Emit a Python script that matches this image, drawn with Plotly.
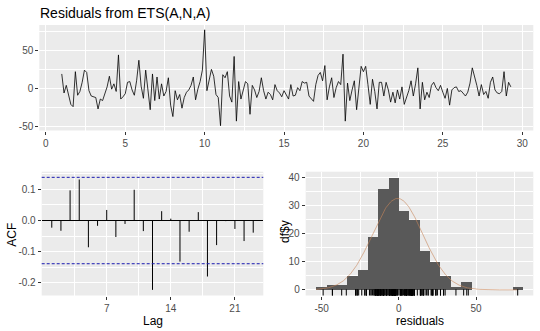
import numpy as np
import plotly.graph_objects as go

# ---- data -------------------------------------------------------------
FREQ = 7          # observations per season
START = 1         # first season index

residuals = [
    19, -6, 4, -10, -21, -24, 22,
    -9, -4, 8, 24, 21, -3, -10,
    -11, -12, -27, -14, -16, -6, 2,
    16, -1, 6, -4, 44, -14, -11,
    -7, 8, 9, -2, -9, 10, 37,
    3, -13, 24, -6, -28, 19, -16,
    15, -14, 6, -10, -4, 14, -22,
    -37, -3, -15, -8, -26, -12, -5,
    -2, 4, 15, -15, -1, 9, 24,
    77, -3, 10, 25, 16, -8, -12,
    -49, 18, 14, 22, -10, -18, 42,
    -43, 9, -14, -1, 9, 6, -34,
    4, -2, -12, -4, 14, -3, -14,
    -5, -8, -15, 5, -3, -6, -11,
    -3, -8, -14, 5, -10, -9, 1,
    -3, 9, 7, 8, -10, -13, -17,
    5, 17, 21, 10, 30, -15, 2,
    14, -12, 1, 9, 5, 45, -43,
    7, -16, -2, 10, -28, 5, 29,
    22, 29, 5, -21, 12, -4, -27,
    8, 8, -10, 8, -2, -18, -5,
    -19, -2, -14, 2, -21, -13, -3,
    10, -10, 6, 27, -27, 8, -15,
    -5, -12, 4, 8, 1, -3, 4,
    -5, -13, 0, -22, -2, 1, 2,
    -4, -3, -7, -10, -5, 7, 27,
    16, 4, -10, 5, -8, -4, -13,
    8, 15, -2, -6, -7, -4, 22,
    -10, 8, 2,
]

acf_lags = list(range(1, 24))
acf_values = [
    -0.023, -0.033, 0.097, 0.132, -0.086, -0.017, 0.034, -0.053,
    -0.011, 0.099, -0.034, -0.223, 0.030, 0.006, -0.132, -0.036,
    0.027, -0.180, -0.079, -0.002, -0.027, -0.066, -0.039,
]

top_xticks = [0, 5, 10, 15, 20, 25, 30]
top_yticks = [-50, 0, 50]
top_yticklabels = ["-50", "0", "50"]
acf_xticks = [7, 14, 21]
acf_yticks = [-0.2, -0.1, 0.0, 0.1]
acf_yticklabels = ["-0.2", "-0.1", "0.0", "0.1"]
hist_xticks = [-50, 0, 50]
hist_xticklabels = ["-50", "0", "50"]
hist_yticks = [0, 10, 20, 30, 40]

BIN_WIDTH = 6.7

# ---- derived quantities ---------------------------------------------
res = np.array(residuals, dtype=float)
n = len(res)
t = START + np.arange(n) / FREQ


def padded(lo, hi, frac=0.05):
    span = hi - lo
    return [lo - frac * span, hi + frac * span]


# histogram bins anchored at zero
k_lo = int(np.floor(res.min() / BIN_WIDTH))
k_hi = int(np.floor(res.max() / BIN_WIDTH)) + 1
edges = np.arange(k_lo, k_hi + 1) * BIN_WIDTH
counts, _ = np.histogram(res, bins=edges)
centers = (edges[:-1] + edges[1:]) / 2

mu, sd = res.mean(), res.std(ddof=1)
xs = np.linspace(edges[0], res.max(), 300)
dens = np.exp(-0.5 * ((xs - mu) / sd) ** 2) / (sd * np.sqrt(2 * np.pi)) * n * BIN_WIDTH

ci = 1.96 / np.sqrt(n)

# ---- figure -----------------------------------------------------------
FONT = "Liberation Sans, Arial, sans-serif"
TICKFONT = dict(family=FONT, size=10, color="#4D4D4D")
PANEL = "#EBEBEB"

fig = go.Figure()

fig.add_trace(go.Scatter(
    x=t, y=res, mode="lines", line=dict(color="black", width=0.8),
    xaxis="x", yaxis="y", showlegend=False, hoverinfo="skip",
))

seg_x, seg_y = [], []
for lag, v in zip(acf_lags, acf_values):
    seg_x += [lag, lag, None]
    seg_y += [0, v, None]
fig.add_trace(go.Scatter(
    x=seg_x, y=seg_y, mode="lines", line=dict(color="black", width=1),
    xaxis="x2", yaxis="y2", showlegend=False, hoverinfo="skip",
))

fig.add_trace(go.Bar(
    x=centers, y=counts, width=BIN_WIDTH, marker=dict(color="#595959", line=dict(width=0)),
    xaxis="x3", yaxis="y3", showlegend=False, hoverinfo="skip",
))
fig.add_trace(go.Scatter(
    x=xs, y=dens, mode="lines", line=dict(color="#C8865A", width=0.6),
    xaxis="x3", yaxis="y3", showlegend=False, hoverinfo="skip",
))

hist_yrange = padded(0, counts.max())
rug_y = hist_yrange[0] + 0.022 * (hist_yrange[1] - hist_yrange[0])
fig.add_trace(go.Scatter(
    x=res, y=np.full(n, rug_y), mode="markers",
    marker=dict(symbol="line-ns", size=5, line=dict(width=1, color="black")),
    xaxis="x3", yaxis="y3", showlegend=False, hoverinfo="skip",
))

acf_yrange = padded(min(min(acf_values), -ci), max(max(acf_values), ci))
acf_xrange = padded(min(acf_lags), max(acf_lags))

for sign in (1, -1):
    fig.add_shape(type="line", xref="x2 domain", yref="y2", x0=0, x1=1,
                  y0=sign * ci, y1=sign * ci,
                  line=dict(color="#1A1AB0", width=1, dash="3px,2px"))


def axis(domain, rng, tickvals, ticktext=None, minor=None, anchor=None, **kw):
    d = dict(
        domain=domain, range=rng, tickvals=tickvals,
        ticks="outside", ticklen=3, tickwidth=1, tickcolor="#333333",
        tickfont=TICKFONT, showgrid=True, gridcolor="white", gridwidth=1.1,
        zeroline=False, showline=False, anchor=anchor, fixedrange=True,
    )
    if ticktext is not None:
        d["ticktext"] = ticktext
    if minor is not None:
        d["minor"] = dict(tickvals=minor, showgrid=True, gridcolor="white",
                          gridwidth=0.5, ticks="")
    d.update(kw)
    return d


W, H = 540, 331
top_dom_x = [39.3 / W, 533.3 / W]
top_dom_y = [1 - 130.5 / H, 1 - 25 / H]
acf_dom_x = [41.7 / W, 263.3 / W]
hist_dom_x = [305.7 / W, 533.3 / W]
bot_dom_y = [1 - 295.5 / H, 1 - 171.7 / H]

fig.update_layout(
    width=W, height=H,
    margin=dict(l=0, r=0, t=0, b=0),
    paper_bgcolor="white", plot_bgcolor=PANEL,
    font=dict(family=FONT, color="black"),
    bargap=0,
    title=dict(text="Residuals from ETS(A,N,A)", x=40 / W, xanchor="left",
               y=1 - 13.5 / H, yanchor="middle",
               font=dict(family=FONT, size=14, color="black")),
    xaxis=axis(top_dom_x, padded(t.min(), t.max()), top_xticks,
               minor=[v + 2.5 for v in top_xticks[:-1]], anchor="y"),
    yaxis=axis(top_dom_y, padded(res.min(), res.max()), top_yticks, top_yticklabels,
               minor=[-25, 25, 75], anchor="x"),
    xaxis2=axis(acf_dom_x, acf_xrange, acf_xticks,
                minor=[3.5, 10.5, 17.5], anchor="y2"),
    yaxis2=axis(bot_dom_y, acf_yrange, acf_yticks, acf_yticklabels,
                minor=[-0.15, -0.05, 0.05, 0.15], anchor="x2",
                zeroline=True, zerolinecolor="black", zerolinewidth=1),
    xaxis3=axis(hist_dom_x, padded(edges[0], edges[-1]), hist_xticks, hist_xticklabels,
                minor=[-25, 25, 75], anchor="y3"),
    yaxis3=axis(bot_dom_y, hist_yrange, hist_yticks,
                minor=[5, 15, 25, 35], anchor="x3"),
)

AXTITLE = dict(family=FONT, size=12, color="black")
for text, x, y, ang in [
    ("ACF", 11.7, 235, -90),
    ("Lag", 152.5, 320.5, 0),
    ("df$y", 285, 232, -90),
    ("residuals", 419.5, 320.5, 0),
]:
    fig.add_annotation(text=text, x=x / W, y=1 - y / H, xref="paper", yref="paper",
                       showarrow=False, textangle=ang, font=AXTITLE,
                       xanchor="center", yanchor="middle")

fig.write_html("out.html")
